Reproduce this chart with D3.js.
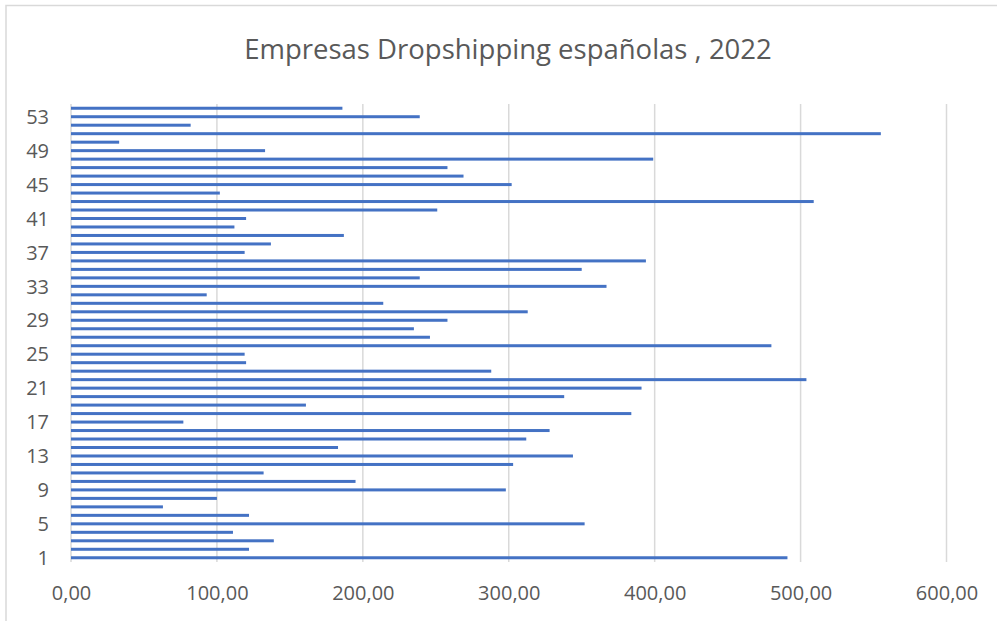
<!DOCTYPE html>
<html>
<head>
<meta charset="utf-8">
<script src="https://cdn.jsdelivr.net/npm/d3@7"></script>
<style>
  html, body { margin: 0; padding: 0; background: #fff; }
  svg { display: block; }
</style>
</head>
<body>
<svg id="chart" width="997" height="621"></svg>
<script>
const title = "Empresas Dropshipping españolas , 2022";
const categories = d3.range(1, 55);
const values = [
  491, 122, 139, 111, 352, 122, 63, 100, 298, 195,
  132, 303, 344, 183, 312, 328, 77, 384, 161, 338,
  391, 504, 288, 120, 119, 480, 246, 235, 258, 313,
  214, 93, 367, 239, 350, 394, 119, 137, 187, 112,
  120, 251, 509, 102, 302, 269, 258, 399, 133, 33,
  555, 82, 239, 186
];
const xTicks = [0, 100, 200, 300, 400, 500, 600];
const yTickLabels = [1, 5, 9, 13, 17, 21, 25, 29, 33, 37, 41, 45, 49, 53];

const data = categories.map((c, i) => ({ cat: c, value: values[i] }));

const svg = d3.select("#chart");
const fontFam = "'Open Sans', 'Noto Sans', sans-serif";
const textColor = "#595959";

// outer chart frame (right/bottom edges fall outside the view)
svg.append("rect")
  .attr("x", 6).attr("y", 5.5)
  .attr("width", 1100).attr("height", 700)
  .attr("fill", "none").attr("stroke", "#d9d9d9").attr("stroke-width", 1.5);

const x = d3.scaleLinear().domain([0, 600]).range([71, 946.5]);
const y = d3.scaleBand().domain(categories).range([562, 104]).paddingInner(0.646).paddingOuter(0.323);

const xAxis = d3.axisBottom(x).tickValues(xTicks)
  .tickSize(0).tickPadding(0)
  .tickFormat(d => d3.format(".2f")(d).replace(".", ","));

// gridlines
svg.append("g").selectAll("line").data(xTicks).join("line")
  .attr("x1", d => x(d)).attr("x2", d => x(d))
  .attr("y1", 104).attr("y2", 562)
  .attr("stroke", "#d9d9d9").attr("stroke-width", 1.5);

// bars
svg.append("g").selectAll("rect").data(data).join("rect")
  .attr("x", x(0))
  .attr("y", d => y(d.cat))
  .attr("width", d => x(d.value) - x(0))
  .attr("height", y.bandwidth())
  .attr("fill", "#4472C4");

// x axis labels
const gx = svg.append("g").attr("transform", "translate(0,600)").call(xAxis);
gx.select(".domain").remove();
gx.selectAll("text")
  .attr("y", 0).attr("dy", 0)
  .attr("font-family", fontFam).attr("font-size", 20)
  .attr("fill", textColor);

// y axis labels
const yAxis = d3.axisLeft(y).tickValues(yTickLabels).tickSize(0).tickPadding(0);
const gy = svg.append("g").attr("transform", "translate(49,0)").call(yAxis);
gy.select(".domain").remove();
gy.selectAll("text")
  .attr("x", 0).attr("dy", "0.36em")
  .attr("font-family", fontFam).attr("font-size", 20)
  .attr("fill", textColor);

// title
svg.append("text")
  .attr("x", 508).attr("y", 59)
  .attr("text-anchor", "middle")
  .attr("font-family", fontFam).attr("font-size", 27.5)
  .attr("fill", textColor)
  .text(title);
</script>
</body>
</html>
